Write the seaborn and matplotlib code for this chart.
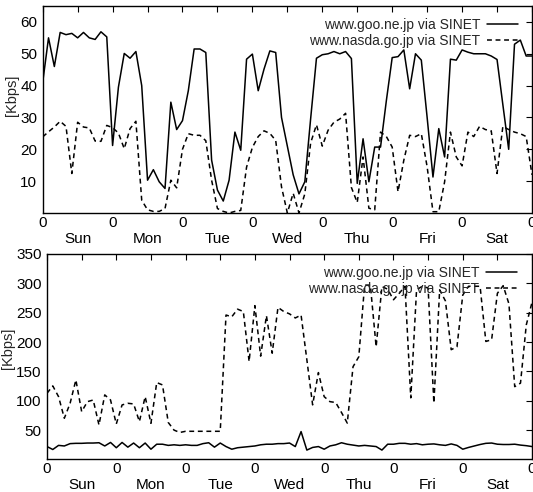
import matplotlib
matplotlib.use('Agg')
import numpy as np
import pandas as pd
import seaborn as sns
import matplotlib.pyplot as plt

# sample hours over one week (every 2 hours)
hours = list(range(0, 169, 2))
days = ['Sun', 'Mon', 'Tue', 'Wed', 'Thu', 'Fri', 'Sat']
labels = ['www.goo.ne.jp via SINET', 'www.nasda.go.jp via SINET']

# upper panel [Kbps]
top_goo = [41, 55, 46, 56.7, 56, 56.4, 55, 56.7, 55, 54.5, 56.9, 55.3,
           21.2, 39.5, 50.1, 48.6, 50.7, 40, 10.3, 13.6, 9.8, 7.7, 34.8, 26.2,
           29, 38.4, 51.5, 51.5, 50.4, 16.6, 7.2, 3.75, 10.3, 25.4, 19.7, 48.3,
           49.9, 38.4, 45.2, 50.9, 50.4, 30, 21, 12, 6, 9.8, 29.6, 48.6,
           49.7, 50, 50.7, 50, 50.7, 48.5, 9.3, 23.3, 9.8, 20.7, 20.7, 35.3,
           48.8, 49.1, 51.2, 39, 50, 48, 30, 11.3, 26.5, 17.6, 48.3, 48,
           51.2, 50.5, 50, 50, 50, 49.3, 48.2, 34, 20, 53, 54.3, 49.3,
           49.3]
top_nasda = [23.9, 25.5, 27, 28.8, 27.2, 12.4, 28.5, 27, 26.7, 22.6, 22.5, 27.5,
             26.8, 25.1, 20.2, 26.5, 28.8, 4, 1, 0.5, 0.5, 1.4, 10.3, 7.9,
             20, 24.9, 24.4, 24.4, 22.7, 10.3, 1.4, 0.5, 0, 0.5, 0.8, 14.4,
             20.6, 24, 25.8, 25, 22.8, 8.2, 0, 6.2, 0, 6, 22, 27.7,
             21, 26, 28.5, 29.5, 31.3, 8, 3.3, 17.6, 1.5, 1, 25.4, 24,
             20.7, 6.7, 16.6, 24.4, 24, 24.9, 14.5, 0.4, 0.4, 9.8, 25.4, 17.6,
             14.8, 25.4, 24, 27.2, 26.2, 25.8, 12.4, 27.2, 26.2, 25.4, 24.9, 24,
             12]

# lower panel [Kbps]
bot_goo = [22, 17, 24, 23, 27, 27.5, 27.5, 28, 28, 28.5, 23, 29,
           20, 29, 21, 28, 20, 28, 17.5, 26, 26, 24, 25, 24,
           25, 24, 24, 27, 28.5, 21, 28, 22, 17.5, 20, 21, 22,
           23, 25, 26, 26, 27, 27, 28, 22, 47.5, 16, 20.5, 22,
           17.5, 23, 25, 28.5, 26, 24.5, 23, 24, 23, 22, 16, 26,
           26, 27.5, 27.5, 26, 27, 25, 26, 26.5, 25, 24, 26.5, 24,
           17.5, 20.5, 23, 25.5, 27.5, 28, 26, 25.5, 25.5, 26, 24.5, 23.5,
           22]
bot_nasda = [112.8, 125.3, 107, 70.2, 95.7, 135.5, 81.5, 98.5, 101.3, 58.8, 110, 101.3,
             60.5, 92.9, 95.7, 94.6, 64.5, 107, 61.6, 131, 127, 63, 50, 46,
             48, 48, 48, 48, 48, 48, 48, 246, 243, 256, 252, 167,
             262, 176, 245, 181, 259, 252, 248, 241, 246, 170, 93, 148,
             107, 98.5, 97, 80, 62, 158, 175, 297, 297, 192, 294.5, 290,
             272, 283, 295, 105, 289, 295, 292, 96, 289, 270, 187, 192,
             280, 295, 295, 295, 201, 204, 283, 296, 265, 124, 130, 229,
             268]

sns.set_style('white')
plt.rcParams['font.family'] = ['Liberation Sans', 'DejaVu Sans']

fig = plt.figure(figsize=(5.33, 4.92), dpi=100)
ax1 = fig.add_axes([0.0801, 0.5671, 0.918, 0.4207])
ax2 = fig.add_axes([0.0882, 0.0661, 0.910, 0.4177])

xt = list(range(0, 169, 12))
xl = ['0' if t % 24 == 0 else '\n' + days[t // 24] for t in xt]

def draw(ax, goo, nasda, ymax, yticks, leg_xy, lab_xy):
    df = pd.DataFrame({'hour': hours, 'goo': goo, 'nasda': nasda})
    sns.lineplot(data=df, x='hour', y='goo', ax=ax, color='black', lw=1.1, label=labels[0])
    sns.lineplot(data=df, x='hour', y='nasda', ax=ax, color='black', lw=1.1,
                 linestyle=(0, (3.2, 2.4)), label=labels[1])
    ax.set_xlim(0, 168)
    ax.set_ylim(0, ymax)
    ax.set_xticks(xt)
    ax.set_xticklabels(xl)
    ax.set_yticks(yticks)
    ax.tick_params(direction='in', top=True, right=True, length=4, width=0.8,
                   labelsize=11, colors='black')
    ax.tick_params(axis='x', pad=2)
    ax.tick_params(axis='y', pad=4)
    for s in ax.spines.values():
        s.set_linewidth(1.0)
        s.set_color('black')
    ax.set_xlabel('')
    ax.set_ylabel('[Kbps]', fontsize=10.5)
    ax.yaxis.set_label_coords(*lab_xy)
    ax.legend(loc='upper right', bbox_to_anchor=leg_xy, frameon=False, markerfirst=False,
              handlelength=2.2, handletextpad=0.5, borderpad=0, borderaxespad=0,
              labelspacing=0.15, fontsize=10)

draw(ax1, top_goo, top_nasda, 65, range(10, 61, 10), (0.971, 0.942), (-0.049, 0.57))
draw(ax2, bot_goo, bot_nasda, 350, range(50, 351, 50), (0.969, 0.942), (-0.066, 0.54))

fig.savefig('out.png', dpi=100)
